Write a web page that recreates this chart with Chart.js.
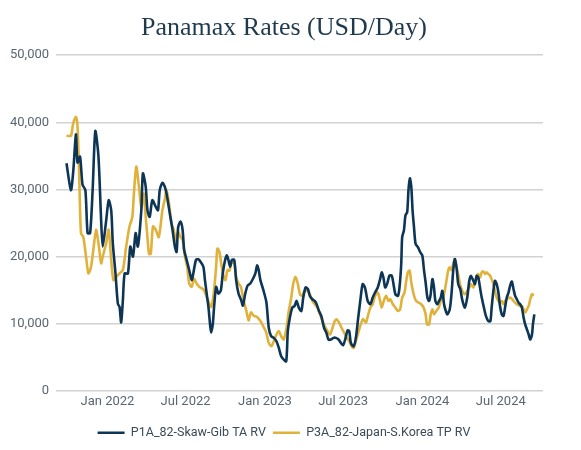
<!DOCTYPE html>
<html>
<head>
<meta charset="utf-8">
<script src="https://cdn.jsdelivr.net/npm/chart.js@4.4.1/dist/chart.umd.min.js"></script>
<style>
  html, body { margin: 0; padding: 0; background: #ffffff; }
  #wrap { width: 581px; height: 450px; position: relative; }
</style>
</head>
<body>
<div id="wrap"><canvas id="c"></canvas></div>
<script>
// Time is expressed as decimal years
const tickPositions = [2022.0, 2022.496, 2023.0, 2023.496, 2024.0, 2024.497];
const tickLabels = ['Jan 2022', 'Jul 2022', 'Jan 2023', 'Jul 2023', 'Jan 2024', 'Jul 2024'];
const yTicks = [0, 10000, 20000, 30000, 40000, 50000];

const seriesNames = ['P1A_82-Skaw-Gib TA RV', 'P3A_82-Japan-S.Korea TP RV'];

const p1aDates = [2021.740,2021.768,2021.783,2021.800,2021.810,2021.826,2021.842,2021.860,2021.874,2021.890,2021.906,2021.923,2021.943,2021.960,2021.970,2021.992,2022.008,2022.024,2022.034,2022.051,2022.066,2022.077,2022.087,2022.098,2022.109,2022.130,2022.145,2022.162,2022.179,2022.193,2022.215,2022.225,2022.243,2022.254,2022.268,2022.285,2022.307,2022.321,2022.332,2022.349,2022.364,2022.375,2022.396,2022.413,2022.428,2022.439,2022.449,2022.464,2022.477,2022.487,2022.503,2022.519,2022.535,2022.545,2022.562,2022.577,2022.592,2022.609,2022.619,2022.630,2022.641,2022.651,2022.658,2022.669,2022.677,2022.690,2022.704,2022.720,2022.732,2022.747,2022.758,2022.768,2022.779,2022.790,2022.805,2022.817,2022.832,2022.849,2022.860,2022.875,2022.890,2022.907,2022.924,2022.939,2022.950,2022.960,2022.971,2022.990,2023.009,2023.024,2023.039,2023.056,2023.073,2023.088,2023.103,2023.119,2023.135,2023.145,2023.158,2023.173,2023.188,2023.201,2023.215,2023.231,2023.243,2023.258,2023.273,2023.285,2023.301,2023.316,2023.328,2023.343,2023.358,2023.375,2023.390,2023.403,2023.418,2023.435,2023.450,2023.467,2023.482,2023.496,2023.509,2023.524,2023.535,2023.545,2023.563,2023.577,2023.592,2023.605,2023.620,2023.635,2023.652,2023.669,2023.684,2023.699,2023.716,2023.731,2023.741,2023.752,2023.763,2023.775,2023.790,2023.805,2023.816,2023.828,2023.844,2023.854,2023.865,2023.871,2023.882,2023.892,2023.903,2023.911,2023.920,2023.929,2023.937,2023.946,2023.956,2023.971,2023.986,2023.999,2024.010,2024.020,2024.031,2024.042,2024.052,2024.063,2024.073,2024.082,2024.095,2024.105,2024.116,2024.126,2024.137,2024.148,2024.158,2024.173,2024.184,2024.195,2024.205,2024.216,2024.227,2024.240,2024.252,2024.269,2024.284,2024.297,2024.307,2024.323,2024.333,2024.344,2024.354,2024.365,2024.376,2024.390,2024.403,2024.418,2024.431,2024.439,2024.450,2024.460,2024.471,2024.482,2024.492,2024.503,2024.514,2024.524,2024.535,2024.546,2024.556,2024.567,2024.578,2024.588,2024.599,2024.610,2024.620,2024.631,2024.642,2024.652,2024.663,2024.674,2024.684,2024.695,2024.701,2024.710];
const p1aValues = [33900,29900,32700,38200,34000,34900,30700,29900,23500,23500,29900,38700,34900,25400,21500,25400,28400,26900,22000,17500,13000,12500,10200,13500,17500,17500,21500,20000,23500,21500,26900,32400,30400,26900,25900,28400,27400,26900,29900,31000,30400,29400,26400,24000,21500,20700,24400,25200,24000,21000,19500,18000,16500,17500,19500,19600,19200,18500,16500,14500,12500,10000,8700,10000,12500,15500,14500,15000,17500,19500,20200,19500,18500,19500,19500,16500,14500,13500,12700,14500,15700,16000,16700,17500,18700,18000,16500,15000,13200,9400,8150,7900,7400,6400,5150,4650,4400,8900,10900,12400,12650,13400,12400,11900,13900,15400,15150,14150,13650,13400,12900,11900,11150,9400,8650,7650,7650,7900,7900,7650,7150,6800,7650,9000,8900,7150,6650,7900,10900,13400,15900,15400,13400,12900,13900,14650,15400,16650,17650,16900,15400,15900,17150,17150,15900,14400,14150,15400,18900,22900,23900,26150,26650,29900,31650,30400,26900,24400,21900,21400,20650,20150,17900,16150,13900,13400,14400,16650,15400,13400,12900,13400,13900,14900,12900,11900,11400,12150,14400,17900,19650,18400,15900,15150,13600,12400,13900,16400,17150,16400,15900,17150,16900,15400,13900,12400,11150,10400,10400,12400,14900,16400,15900,14650,12650,11400,11150,12400,13900,14650,15650,16300,15150,14150,13650,13150,12900,12400,10900,9900,9150,8400,7650,8400,9900,11400];

const p3aDates = [2021.740,2021.768,2021.783,2021.800,2021.810,2021.821,2021.832,2021.847,2021.864,2021.879,2021.896,2021.913,2021.928,2021.943,2021.960,2021.970,2021.992,2022.008,2022.024,2022.038,2022.056,2022.077,2022.098,2022.119,2022.140,2022.158,2022.168,2022.183,2022.200,2022.215,2022.230,2022.243,2022.254,2022.264,2022.275,2022.289,2022.307,2022.326,2022.349,2022.364,2022.375,2022.391,2022.407,2022.421,2022.434,2022.449,2022.464,2022.477,2022.492,2022.506,2022.519,2022.535,2022.549,2022.566,2022.583,2022.598,2022.613,2022.630,2022.647,2022.658,2022.669,2022.679,2022.690,2022.698,2022.711,2022.722,2022.736,2022.749,2022.762,2022.775,2022.785,2022.805,2022.817,2022.832,2022.847,2022.864,2022.881,2022.896,2022.911,2022.928,2022.950,2022.971,2022.992,2023.009,2023.024,2023.041,2023.056,2023.073,2023.088,2023.103,2023.119,2023.137,2023.151,2023.167,2023.179,2023.194,2023.209,2023.222,2023.237,2023.252,2023.269,2023.285,2023.301,2023.316,2023.333,2023.349,2023.365,2023.379,2023.397,2023.413,2023.429,2023.443,2023.456,2023.471,2023.486,2023.503,2023.520,2023.535,2023.550,2023.563,2023.577,2023.592,2023.605,2023.622,2023.641,2023.656,2023.669,2023.684,2023.699,2023.716,2023.731,2023.741,2023.754,2023.769,2023.784,2023.796,2023.812,2023.828,2023.844,2023.858,2023.871,2023.886,2023.897,2023.907,2023.918,2023.929,2023.939,2023.950,2023.960,2023.975,2023.992,2024.007,2024.020,2024.029,2024.042,2024.052,2024.063,2024.073,2024.088,2024.103,2024.116,2024.131,2024.141,2024.152,2024.163,2024.173,2024.184,2024.195,2024.205,2024.216,2024.227,2024.238,2024.252,2024.269,2024.284,2024.297,2024.307,2024.323,2024.333,2024.344,2024.354,2024.365,2024.376,2024.386,2024.397,2024.407,2024.418,2024.429,2024.439,2024.450,2024.460,2024.471,2024.482,2024.492,2024.503,2024.514,2024.524,2024.535,2024.556,2024.578,2024.599,2024.620,2024.631,2024.642,2024.652,2024.663,2024.674,2024.684,2024.695,2024.706];
const p3aValues = [38000,38000,39900,40800,39400,31900,23500,22900,20000,17500,18500,21500,24000,22000,19000,20000,22000,24000,19500,16500,17000,17500,18000,21500,24500,25900,29400,33400,30400,27400,29400,25900,22900,20400,20400,24500,24000,22900,26900,28500,29900,27900,24900,24000,22200,23700,22900,22500,20000,18500,16000,15500,16700,16000,15500,15300,15000,14000,13000,12500,13500,15500,18500,21200,20700,19000,17200,16500,18000,17900,19000,19000,17000,16000,15500,13500,12000,10500,11700,11200,11000,10400,9500,8650,7150,6650,7400,8400,8900,8150,7650,9400,11900,13900,15900,17000,15900,14400,14150,14900,14900,14400,13400,12900,12400,11400,10400,9650,8900,8400,9400,10400,10650,10150,9400,8650,7900,7400,6650,6400,7400,8650,9650,10700,10200,11400,12400,12900,14150,14650,13400,12400,13400,14150,13400,13650,12900,12400,11900,12150,13900,14650,16400,17650,17900,16150,14900,13900,13400,13150,12900,12400,11400,9900,9900,11400,12150,11400,11900,12400,13400,13900,14900,16400,17900,18400,18000,18900,19600,18400,17300,15900,14900,14400,14900,15400,15900,15400,16150,17150,17400,16900,17650,17800,17400,17650,17400,17150,16650,15900,14900,13900,13400,13150,13400,12900,13400,13650,13900,13400,12900,12650,12650,12150,11650,12150,12650,13650,14400,14150];

const xMin = 2021.674, xMax = 2024.765;
const navy = '#0d3656';
const gold = '#e1b23b';

function pairs(xs, ys) { return xs.map((x, i) => ({ x: x, y: ys[i] })); }

new Chart(document.getElementById('c'), {
  type: 'line',
  data: {
    datasets: [
      { label: seriesNames[0], data: pairs(p1aDates, p1aValues), borderColor: navy, backgroundColor: navy,
        borderWidth: 2.6, pointRadius: 0, tension: 0.25, fill: false },
      { label: seriesNames[1], data: pairs(p3aDates, p3aValues), borderColor: gold, backgroundColor: gold,
        borderWidth: 2.6, pointRadius: 0, tension: 0.25, fill: false }
    ]
  },
  options: {
    responsive: true,
    maintainAspectRatio: false,
    animation: false,
    devicePixelRatio: 1,
    layout: { padding: { left: 3, right: 16, top: 0, bottom: 1 } },
    plugins: {
      title: {
        display: true,
        text: 'Panamax Rates (USD/Day)',
        color: '#1f3a4c',
        font: { family: "'Liberation Serif', serif", size: 26, weight: 'normal' },
        padding: { top: 13, bottom: 11 }
      },
      legend: {
        position: 'bottom',
        labels: {
          usePointStyle: true,
          pointStyle: 'line',
          pointStyleWidth: 27,
          color: '#3b4a56',
          font: { family: 'Roboto, sans-serif', size: 12.5 },
          padding: 7
        }
      },
      tooltip: { enabled: false }
    },
    scales: {
      x: {
        type: 'linear',
        min: xMin,
        max: xMax,
        grid: { display: false, drawTicks: false },
        border: { display: false },
        afterBuildTicks: (axis) => { axis.ticks = tickPositions.map(v => ({ value: v })); },
        afterFit: (axis) => { axis.height += 7; },
        ticks: {
          autoSkip: false,
          maxRotation: 0,
          color: '#5a6670',
          font: { family: 'Roboto, sans-serif', size: 13 },
          padding: 3,
          callback: (v) => { const i = tickPositions.indexOf(v); return i >= 0 ? tickLabels[i] : ''; }
        }
      },
      y: {
        min: 0,
        max: 50000,
        afterBuildTicks: (axis) => { axis.ticks = yTicks.map(v => ({ value: v })); },
        grid: { color: '#d2d2d2', lineWidth: 1.5, drawTicks: false },
        border: { display: false },
        ticks: {
          color: '#5a6670',
          font: { family: 'Roboto, sans-serif', size: 13 },
          padding: 7,
          callback: (v) => v.toLocaleString('en-US')
        }
      },
      yRightSpace: {
        position: 'right',
        display: true,
        grid: { display: false, drawTicks: false },
        border: { display: false },
        ticks: { display: false },
        afterFit: (axis) => { axis.width = 22; }
      }
    }
  }
});
</script>
</body>
</html>
